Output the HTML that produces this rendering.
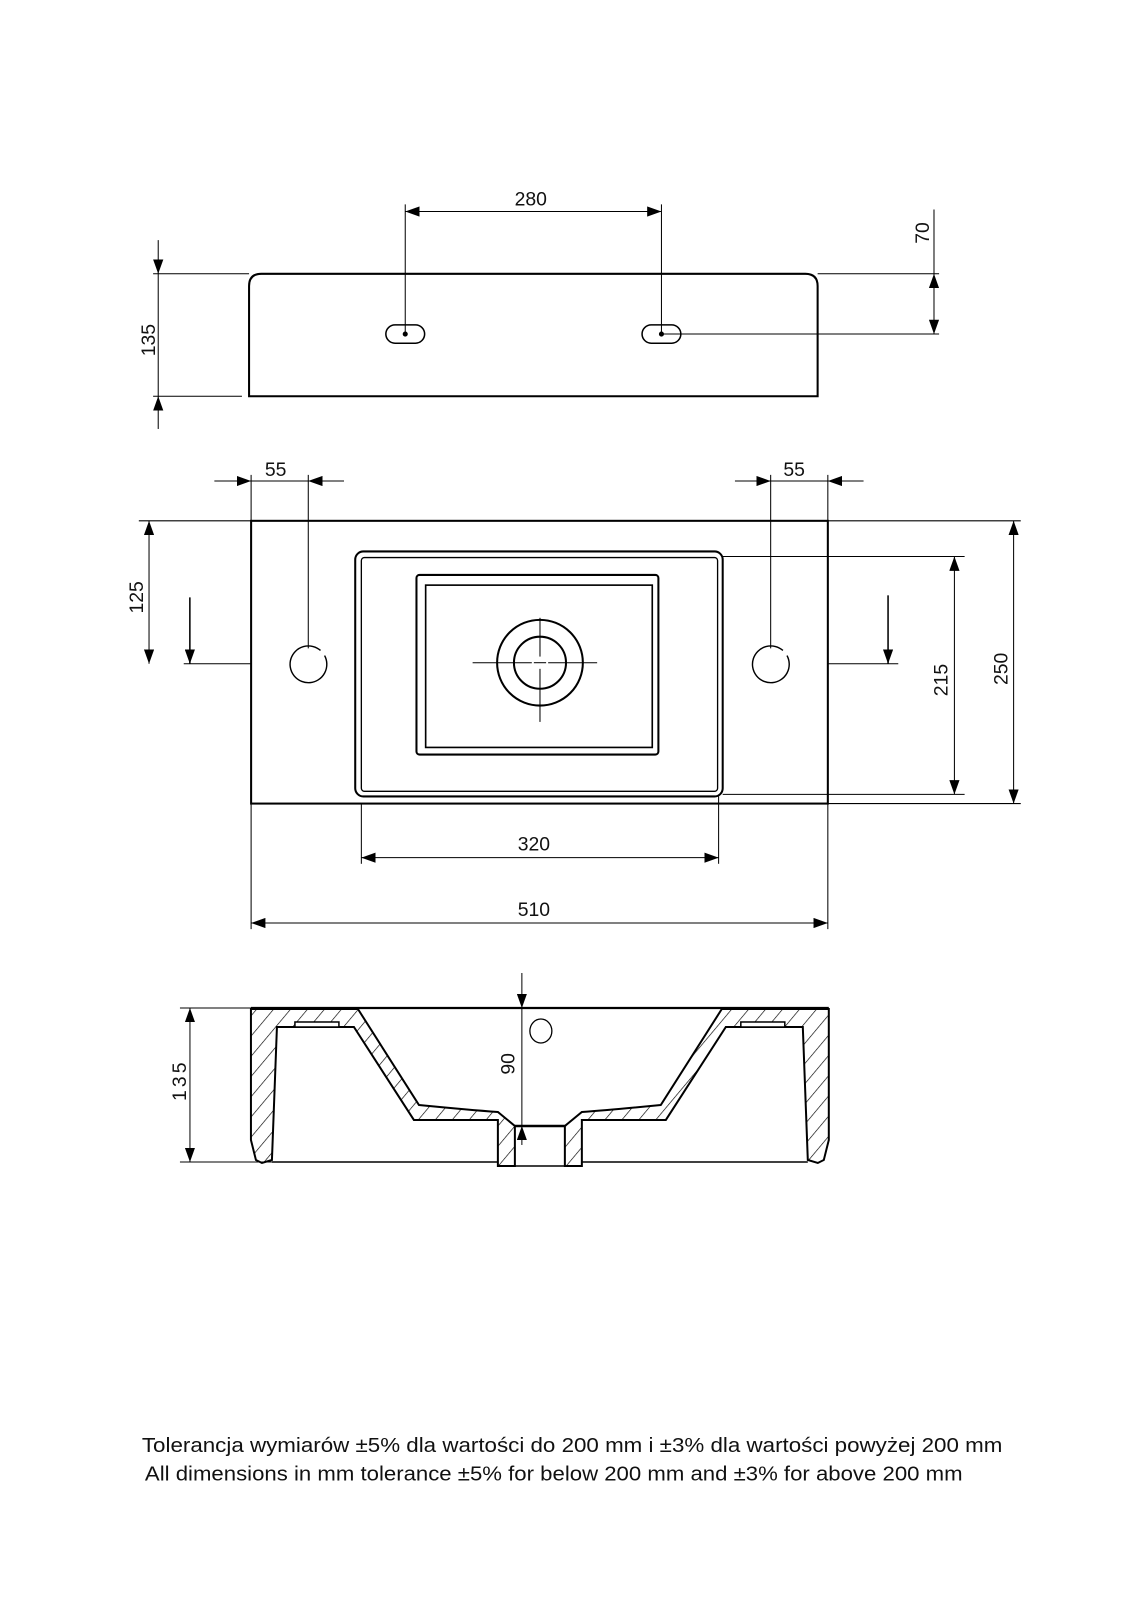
<!DOCTYPE html>
<html><head><meta charset="utf-8"><style>
html,body{margin:0;padding:0;background:#fff;}
svg{display:block;}
text{font-family:"Liberation Sans Narrow","Liberation Sans",sans-serif;fill:#111;}
</style></head><body>
<svg width="1131" height="1600" viewBox="0 0 1108 1567" xmlns="http://www.w3.org/2000/svg">
<defs>
<marker id="a" viewBox="0 0 14 10" refX="14" refY="5" markerWidth="14" markerHeight="10" markerUnits="userSpaceOnUse" orient="auto-start-reverse"><path d="M0,0 L14,5 L0,10 z" fill="#000"/></marker>
<pattern id="h" patternUnits="userSpaceOnUse" width="13" height="40" patternTransform="rotate(40)"><line x1="0" y1="0" x2="0" y2="40" stroke="#000" stroke-width="1.3"/></pattern>
</defs>
<g fill="none" stroke="#000">
<!-- TOP VIEW -->
<path d="M244,388 L244,280 Q244,268 256,268 L789,268 Q801,268 801,280 L801,388 Z" stroke-width="2"/>
<rect x="378" y="318" width="38" height="18" rx="9" stroke-width="1.5"/>
<rect x="629" y="318" width="38" height="18" rx="9" stroke-width="1.5"/>
<circle cx="397" cy="327" r="2" fill="#000"/><circle cx="648" cy="327" r="2" fill="#000"/>
<g stroke-width="1">
<line x1="397" y1="200" x2="397" y2="327"/><line x1="648" y1="200" x2="648" y2="327"/>
<line x1="397" y1="207" x2="648" y2="207" marker-start="url(#a)" marker-end="url(#a)"/>
<line x1="150" y1="268" x2="244" y2="268"/><line x1="801" y1="268" x2="920" y2="268"/>
<line x1="648" y1="327" x2="920" y2="327"/><line x1="150" y1="388" x2="237" y2="388"/>
<line x1="915" y1="205" x2="915" y2="268"/>
<line x1="915" y1="268" x2="915" y2="327" marker-start="url(#a)" marker-end="url(#a)"/>
<line x1="155" y1="235" x2="155" y2="268" marker-end="url(#a)"/>
<line x1="155" y1="268" x2="155" y2="388"/>
<line x1="155" y1="420" x2="155" y2="388" marker-end="url(#a)"/>
</g>
<!-- PLAN VIEW -->
<rect x="246" y="510" width="565" height="277" stroke-width="2"/>
<rect x="348" y="540" width="360" height="240" rx="8" stroke-width="2"/>
<rect x="354" y="546" width="349" height="229" rx="3" stroke-width="1.3"/>
<rect x="408" y="563" width="237" height="176" rx="3" stroke-width="2"/>
<rect x="417" y="573" width="222" height="159" stroke-width="1.6"/>
<circle cx="529" cy="649" r="42" stroke-width="2"/>
<circle cx="529" cy="649" r="25.5" stroke-width="2"/>
<g stroke-width="1">
<line x1="463" y1="649" x2="521" y2="649"/><line x1="537" y1="649" x2="585" y2="649"/>
<line x1="529" y1="605" x2="529" y2="643"/><line x1="529" y1="655" x2="529" y2="707"/>
<line x1="523" y1="649" x2="535" y2="649"/>
</g>
<path d="M318,642 A18,18 0 1 1 314,637" stroke-width="1.4"/>
<path d="M771,642 A18,18 0 1 1 767,637" stroke-width="1.4"/>
<g stroke-width="1">
<line x1="246" y1="465" x2="246" y2="510"/><line x1="302" y1="465" x2="302" y2="635"/>
<line x1="210" y1="471" x2="246" y2="471" marker-end="url(#a)"/>
<line x1="246" y1="471" x2="302" y2="471"/>
<line x1="337" y1="471" x2="302" y2="471" marker-end="url(#a)"/>
<line x1="811" y1="465" x2="811" y2="510"/><line x1="755" y1="465" x2="755" y2="635"/>
<line x1="720" y1="471" x2="755" y2="471" marker-end="url(#a)"/>
<line x1="755" y1="471" x2="811" y2="471"/>
<line x1="846" y1="471" x2="811" y2="471" marker-end="url(#a)"/>
<line x1="136" y1="510" x2="246" y2="510"/>
<line x1="146" y1="510" x2="146" y2="650" marker-start="url(#a)" marker-end="url(#a)"/>
<line x1="180" y1="650" x2="246" y2="650"/>
<line x1="186" y1="585" x2="186" y2="650" marker-end="url(#a)" stroke-width="1.5"/>
<line x1="811" y1="650" x2="880" y2="650"/>
<line x1="870" y1="583" x2="870" y2="650" marker-end="url(#a)" stroke-width="1.5"/>
<line x1="708" y1="545" x2="945" y2="545"/><line x1="708" y1="778" x2="945" y2="778"/>
<line x1="935" y1="545" x2="935" y2="778" marker-start="url(#a)" marker-end="url(#a)"/>
<line x1="811" y1="510" x2="1000" y2="510"/><line x1="811" y1="787" x2="1000" y2="787"/>
<line x1="993" y1="510" x2="993" y2="787" marker-start="url(#a)" marker-end="url(#a)"/>
<line x1="354" y1="787" x2="354" y2="846"/><line x1="704" y1="780" x2="704" y2="846"/>
<line x1="354" y1="840" x2="704" y2="840" marker-start="url(#a)" marker-end="url(#a)"/>
<line x1="246" y1="787" x2="246" y2="910"/><line x1="811" y1="787" x2="811" y2="910"/>
<line x1="246" y1="904" x2="811" y2="904" marker-start="url(#a)" marker-end="url(#a)"/>
</g>
<!-- SECTION (real coords) -->
<g transform="scale(0.97943)">
<path d="M251,1009 L358,1009 L419,1105 Q470,1110 498,1112 L515,1126 L515,1166 L498,1166 L498,1120 L414,1120 L354,1027 L277,1027 L272,1160 L262,1163 L256,1160 L251,1140 Z" fill="url(#h)" stroke-width="2"/>
<rect x="295" y="1022" width="44" height="5" fill="#fff" stroke-width="1.5"/>
<path d="M829,1009 L722,1009 L661,1105 Q610,1110 582,1112 L565,1126 L565,1166 L582,1166 L582,1120 L666,1120 L726,1027 L803,1027 L808,1160 L818,1163 L824,1160 L829,1140 Z" fill="url(#h)" stroke-width="2"/>
<rect x="741" y="1022" width="44" height="5" fill="#fff" stroke-width="1.5"/>
<line x1="251" y1="1008" x2="829" y2="1008" stroke-width="2.2"/>
<line x1="272" y1="1162" x2="498" y2="1162" stroke-width="1.5"/>
<line x1="582" y1="1162" x2="808" y2="1162" stroke-width="1.5"/>
<line x1="515" y1="1126" x2="565" y2="1126" stroke-width="2.5"/>
<line x1="515" y1="1166" x2="565" y2="1166" stroke-width="1.5"/>
<ellipse cx="541" cy="1031" rx="11" ry="12" stroke-width="1.3"/>
<g stroke-width="1">
<line x1="522" y1="973" x2="522" y2="1008" marker-end="url(#a)"/>
<line x1="522" y1="1008" x2="522" y2="1126"/>
<line x1="522" y1="1145" x2="522" y2="1126" marker-end="url(#a)"/>
<line x1="180" y1="1008" x2="251" y2="1008"/>
<line x1="180" y1="1162" x2="272" y2="1162"/>
<line x1="190" y1="1008" x2="190" y2="1162" marker-start="url(#a)" marker-end="url(#a)"/>
</g>
</g>
</g>
<!-- texts -->
<text x="520" y="201" font-size="19" text-anchor="middle">280</text>
<text transform="translate(910,228) rotate(-90)" font-size="19" text-anchor="middle">70</text>
<text transform="translate(152,333) rotate(-90)" font-size="19" text-anchor="middle">135</text>
<text x="270" y="466" font-size="19" text-anchor="middle">55</text>
<text x="778" y="466" font-size="19" text-anchor="middle">55</text>
<text transform="translate(140,585) rotate(-90)" font-size="19" text-anchor="middle">125</text>
<text transform="translate(928,666) rotate(-90)" font-size="19" text-anchor="middle">215</text>
<text transform="translate(987,655) rotate(-90)" font-size="19" text-anchor="middle">250</text>
<text x="523" y="833" font-size="19" text-anchor="middle">320</text>
<text x="523" y="897" font-size="19" text-anchor="middle">510</text>
<text transform="translate(182,1058) rotate(-90)" font-size="19" text-anchor="middle" letter-spacing="3">135</text>
<text transform="translate(504,1042) rotate(-90)" font-size="19" text-anchor="middle">90</text>
<text x="139" y="1422" font-size="20" textLength="843" lengthAdjust="spacingAndGlyphs" font-family="Liberation Sans, sans-serif">Tolerancja wymiarów ±5% dla wartości do 200 mm i ±3% dla wartości powyżej 200 mm</text>
<text x="142" y="1450" font-size="20" textLength="801" lengthAdjust="spacingAndGlyphs" font-family="Liberation Sans, sans-serif">All dimensions in mm tolerance ±5% for below 200 mm and ±3% for above 200 mm</text>
</svg>
</body></html>
